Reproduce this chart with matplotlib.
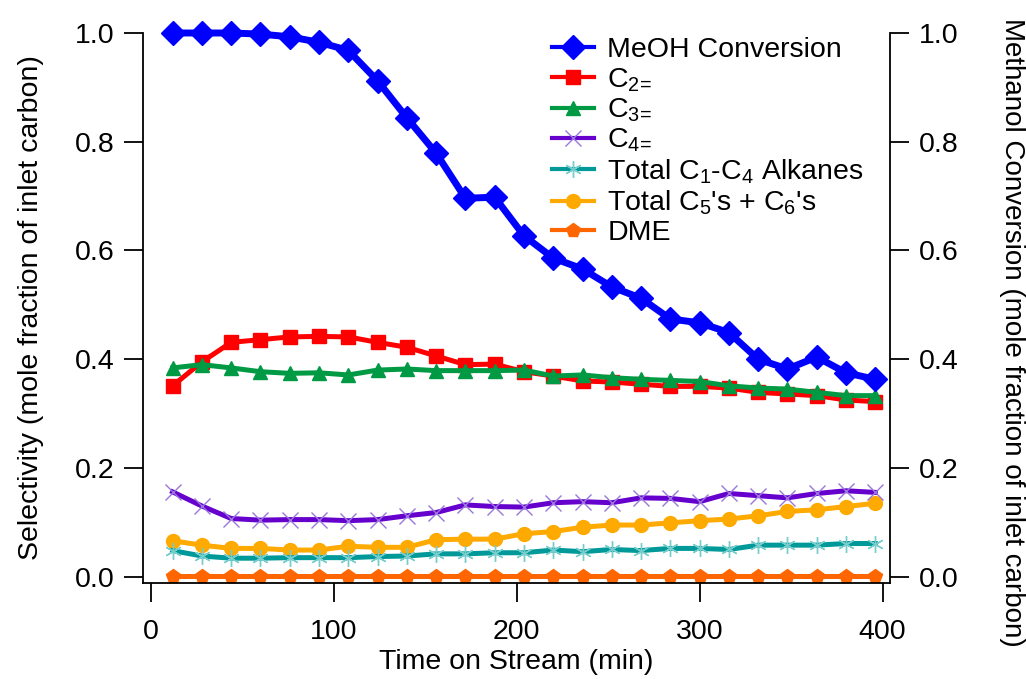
import numpy as np
import matplotlib.pyplot as plt
from matplotlib.lines import Line2D

plt.rcParams['font.family'] = ['Liberation Sans', 'DejaVu Sans']
plt.rcParams['mathtext.fontset'] = 'custom'
plt.rcParams['mathtext.rm'] = 'Liberation Sans'
plt.rcParams['mathtext.it'] = 'Liberation Sans'

# time on stream (min)
time_min = [12, 28, 44, 60, 76, 92, 108, 124, 140, 156, 172, 188, 204,
            220, 236, 252, 268, 284, 300, 316, 332, 348, 364, 380, 396]

meoh_conv = [1.000, 1.000, 1.000, 0.998, 0.993, 0.983, 0.968, 0.912, 0.844,
             0.779, 0.696, 0.698, 0.627, 0.586, 0.566, 0.533, 0.512, 0.474,
             0.467, 0.449, 0.400, 0.382, 0.404, 0.375, 0.363]
c2 = [0.351, 0.395, 0.431, 0.436, 0.441, 0.442, 0.441, 0.431, 0.422, 0.406,
      0.390, 0.391, 0.377, 0.369, 0.360, 0.358, 0.354, 0.350, 0.350, 0.347,
      0.339, 0.336, 0.333, 0.325, 0.322]
c3 = [0.384, 0.390, 0.384, 0.377, 0.374, 0.375, 0.371, 0.380, 0.382, 0.379,
      0.379, 0.379, 0.380, 0.369, 0.371, 0.366, 0.363, 0.361, 0.359, 0.351,
      0.347, 0.345, 0.339, 0.333, 0.333]
c4 = [0.156, 0.130, 0.107, 0.104, 0.105, 0.105, 0.103, 0.105, 0.112, 0.118,
      0.132, 0.129, 0.128, 0.136, 0.138, 0.136, 0.145, 0.144, 0.138, 0.153,
      0.149, 0.145, 0.153, 0.158, 0.155]
alkanes = [0.048, 0.038, 0.034, 0.034, 0.035, 0.035, 0.035, 0.037, 0.038, 0.042,
           0.042, 0.044, 0.044, 0.049, 0.046, 0.050, 0.048, 0.052, 0.052, 0.050,
           0.058, 0.058, 0.058, 0.061, 0.061]
c5_c6 = [0.066, 0.058, 0.052, 0.052, 0.049, 0.049, 0.056, 0.054, 0.054, 0.068,
         0.069, 0.069, 0.079, 0.083, 0.091, 0.095, 0.095, 0.099, 0.103, 0.106,
         0.112, 0.120, 0.123, 0.129, 0.135]
dme = [0.001] * 25

labels = ['MeOH Conversion', r'C$_{2\!=}$', r'C$_{3\!=}$', r'C$_{4\!=}$',
          r'Total C$_{\mathrm{1}}$-C$_{\mathrm{4}}$ Alkanes',
          r"Total C$_{\mathrm{5}}$'s + C$_{\mathrm{6}}$'s", 'DME']

FS = 20.5
LW = 3.6

# colours and marker styles per series
sty_meoh = dict(color='#0000FF', marker='D', ms=12)
sty_c2 = dict(color='#FF0000', marker='s', ms=10)
sty_c3 = dict(color='#009944', marker='^', ms=10)
sty_c4 = dict(color='#6600CC', marker='x', ms=11, mec='#9977DD', mew=1)
sty_alk = dict(color='#009999', marker=(6, 2, 0), ms=12, mec='#77CCCC', mew=1)
sty_c56 = dict(color='#FFAA00', marker='o', ms=10)
sty_dme = dict(color='#FF6600', marker='p', ms=10)

fig = plt.figure(figsize=(10.26, 6.79), dpi=100)
ax = fig.add_axes([0.1397, 0.1414, 0.7277, 0.81])
ax2 = ax.twinx()

# selectivities on the left axis
ax.plot(time_min, dme, lw=LW, clip_on=False, **sty_dme)
ax.plot(time_min, c5_c6, lw=LW, clip_on=False, **sty_c56)
ax.plot(time_min, alkanes, lw=LW, clip_on=False, **sty_alk)
ax.plot(time_min, c4, lw=LW, clip_on=False, **sty_c4)
ax.plot(time_min, c2, lw=LW, clip_on=False, **sty_c2)
ax.plot(time_min, c3, lw=LW, clip_on=False, **sty_c3)

# conversion on the right axis
ax2.plot(time_min, meoh_conv, lw=5, clip_on=False, **sty_meoh)

for a in (ax, ax2):
    a.set_xlim(-4, 404)
    a.set_ylim(-0.0116, 1.0)
    a.spines['top'].set_visible(False)
    for s in a.spines.values():
        s.set_linewidth(1.3)
    a.tick_params(direction='out', length=14, width=1.3, labelsize=FS)

ax.spines['right'].set_visible(False)
ax2.spines['left'].set_visible(False)
ax2.spines['bottom'].set_visible(False)

yt = np.arange(0, 1.01, 0.2)
ax.set_xticks([0, 100, 200, 300, 400])
ax.set_yticks(yt)
ax.set_yticklabels(['%.1f' % v for v in yt])
ax2.set_yticks(yt)
ax2.set_yticklabels(['%.1f' % v for v in yt])
ax.tick_params(axis='x', pad=12)
ax.tick_params(axis='y', pad=7)
ax2.tick_params(axis='y', pad=7)

ax.set_xlabel('Time on Stream (min)', fontsize=FS, labelpad=3)
ax.set_ylabel('Selectivity (mole fraction of inlet carbon)', fontsize=FS, labelpad=22)
ax2.set_ylabel('Methanol Conversion (mole fraction of inlet carbon)', fontsize=20,
               rotation=-90, va='center')
ax2.yaxis.set_label_coords(1.163, 0.455)

handles = [Line2D([], [], lw=3, **s) for s in
           (sty_meoh, sty_c2, sty_c3, sty_c4, sty_alk, sty_c56, sty_dme)]
ax2.legend(handles, labels, loc='upper left', bbox_to_anchor=(0.547, 0.992),
           frameon=False, fontsize=FS, handlelength=1.5, handletextpad=0.45,
           labelspacing=0.1, borderaxespad=0.0, borderpad=0.0)

fig.savefig('out.png', dpi=100)
